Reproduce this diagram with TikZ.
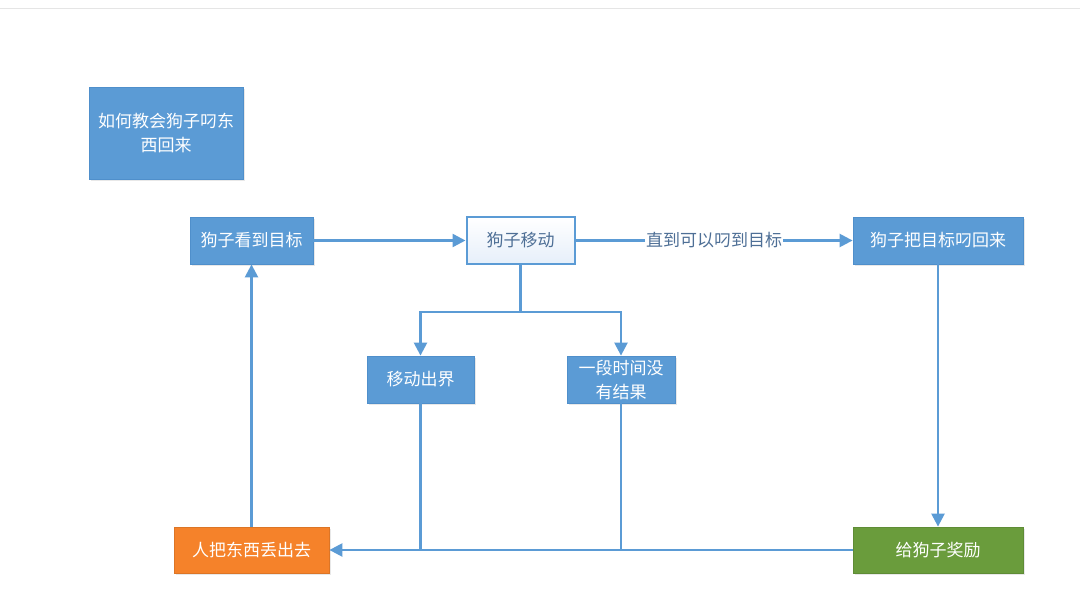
\documentclass[tikz,border=0pt]{standalone}
\usepackage{fontspec}
\setmainfont{Noto Sans CJK SC}
\usetikzlibrary{arrows.meta,shadows,positioning}
\definecolor{bluefill}{HTML}{5B9BD5}
\definecolor{blueline}{HTML}{5B9BD5}
\definecolor{blueborder}{HTML}{4F8FCB}
\definecolor{orangefill}{HTML}{F5822A}
\definecolor{greenfill}{HTML}{6A9C3C}
\definecolor{labeltext}{HTML}{4E6F96}
\definecolor{lightblue}{HTML}{E6EFFA}
\tikzset{
  box/.style={rectangle, inner sep=0pt, align=center, font=\fontsize{17}{24}\selectfont,
    text=white, draw=blueborder, line width=0.8pt, fill=bluefill,
    drop shadow={shadow xshift=1.5pt, shadow yshift=-2pt, opacity=0.18, fill=gray}},
  wbox/.style={rectangle, inner sep=0pt, align=center, font=\fontsize{17}{24}\selectfont,
    text=labeltext, draw=blueline, line width=2pt, top color=white, bottom color=lightblue},
  obox/.style={box, fill=orangefill, draw=orangefill!90!black},
  gbox/.style={box, fill=greenfill, draw=greenfill!90!black},
  conn/.style={draw=blueline, line width=2.4pt},
  arr/.style={conn, -{Triangle[length=13pt,width=13pt]}},
  lbl/.style={fill=white, inner sep=1pt, text=labeltext, font=\fontsize{17}{24}\selectfont}
}
\begin{document}
\begin{tikzpicture}[x=1pt,y=-1pt]
\useasboundingbox[fill=white] (0,0) rectangle (1080,599);
\draw[gray!20, line width=0.8pt] (0,8) -- (1080,8);

\node[box, minimum width=154pt, minimum height=92pt] (title) at (166,133) {如何教会狗子叼东\\西回来};
\node[box, minimum width=123pt, minimum height=47pt] (see) at (251.5,240.5) {狗子看到目标};
\node[wbox, minimum width=108pt, minimum height=46pt] (move) at (520.5,240.5) {狗子移动};
\node[box, minimum width=170pt, minimum height=47pt] (back) at (938,240.5) {狗子把目标叼回来};
\node[box, minimum width=107pt, minimum height=47pt] (out) at (420.5,379.5) {移动出界};
\node[box, minimum width=108pt, minimum height=47pt] (none) at (621,379.5) {一段时间没\\有结果};
\node[obox, minimum width=155pt, minimum height=46pt] (throw) at (251.5,550) {人把东西丢出去};
\node[gbox, minimum width=170pt, minimum height=46pt] (reward) at (938,550) {给狗子奖励};

\coordinate (br) at (520.5,312);

\draw[arr] (see.east) -- (move.west);
\draw[arr] (move.east) -- node[lbl] {直到可以叼到目标} (back.west);
\draw[conn] (move.south) -- (br);
\draw[arr] (br) -| (out.north);
\draw[arr] (br) -| (none.north);
\draw[arr] (back.south) -- (reward.north);
\draw[arr] (reward.west) -- (throw.east);
\draw[conn] (out.south) -- (out.south |- throw.east);
\draw[conn] (none.south) -- (none.south |- throw.east);
\draw[arr] (throw.north) -- (see.south);
\end{tikzpicture}
\end{document}
